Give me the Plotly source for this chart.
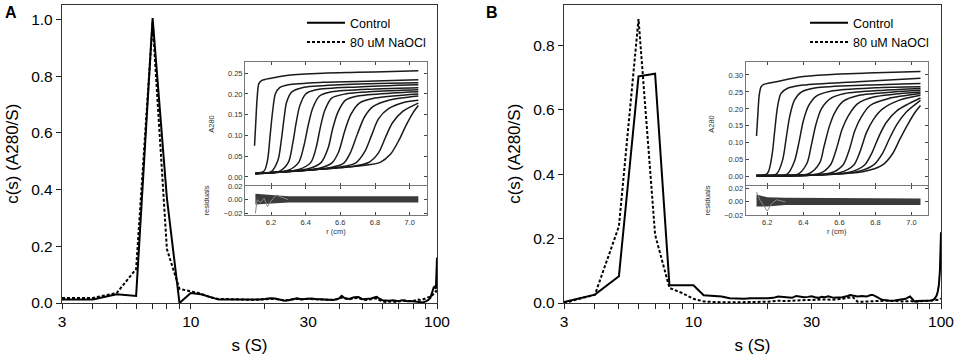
import plotly.graph_objects as go

# ---------------- main c(s) distributions ----------------
A_ctrl_s = [3,4,5,6,7,8,9,10,11,12,13,14,15,16,17,18,19,20,21,22,23,24,25,26,27,28,29,30,31,32,34,36,38,40,41,42,44,46,48,50,52,54,56,57,58,60,62,64,66,68,70,72,74,76,78,80,82,84,86,88,90,92,94,95,96,97,98,99,100]
A_ctrl_c = [0.012,0.012,0.031,0.025,1.005,0.37,0.0,0.035,0.031,0.02,0.012,0.012,0.012,0.011,0.011,0.011,0.012,0.014,0.017,0.016,0.012,0.008,0.01,0.014,0.017,0.013,0.014,0.017,0.016,0.014,0.013,0.012,0.011,0.016,0.025,0.018,0.014,0.02,0.021,0.013,0.014,0.016,0.02,0.022,0.016,0.01,0.009,0.008,0.01,0.008,0.006,0.01,0.008,0.006,0.007,0.006,0.004,0.002,0.001,0.002,0.006,0.01,0.018,0.03,0.045,0.055,0.058,0.05,0.16]

A_ocl_s = [3,4,5,6,7,8,9,10,11,12,13,14,15,16,18,20,21,22,24,26,27,28,30,32,34,36,38,40,41,42,44,46,48,50,52,54,56,58,60,62,64,66,68,70,72,74,76,78,80,82,84,86,88,90,92,94,96,97,98,99,100]
A_ocl_c = [0.018,0.018,0.035,0.12,0.99,0.19,0.05,0.04,0.033,0.02,0.014,0.014,0.013,0.012,0.011,0.013,0.015,0.015,0.009,0.013,0.015,0.012,0.015,0.013,0.012,0.012,0.011,0.014,0.02,0.016,0.013,0.017,0.018,0.012,0.011,0.013,0.017,0.011,0.006,0.004,0.005,0.006,0.004,0.005,0.008,0.009,0.007,0.006,0.007,0.01,0.012,0.01,0.012,0.016,0.02,0.022,0.028,0.033,0.04,0.042,0.035]

B_ctrl_s = [3,4,5,6,7,8,9,10,11,12,13,14,15,16,17,18,19,20,21,22,23,24,25,26,27,28,29,30,31,32,33,34,35,36,37,38,40,42,43,44,46,48,50,52,53,55,57,59,62,65,68,70,72,74,75,77,78,80,84,88,92,94,96,97,98,99,100]
B_ctrl_c = [0.003,0.026,0.083,0.704,0.712,0.055,0.055,0.055,0.024,0.022,0.02,0.015,0.013,0.013,0.015,0.016,0.015,0.015,0.016,0.02,0.018,0.016,0.016,0.022,0.02,0.018,0.019,0.021,0.018,0.016,0.019,0.018,0.021,0.019,0.016,0.017,0.018,0.022,0.025,0.023,0.02,0.022,0.02,0.025,0.025,0.019,0.012,0.009,0.007,0.008,0.01,0.012,0.013,0.018,0.02,0.01,0.005,0.006,0.006,0.007,0.008,0.012,0.023,0.035,0.055,0.1,0.22]

B_ocl_s = [3,4,5,6,7,8,9,10,11,12,14,16,18,20,22,24,26,28,30,32,34,36,38,40,42,44,45,46,48,50,55,60,65,70,75,80,85,90,95,98,100]
B_ocl_c = [0.0,0.026,0.238,0.882,0.212,0.047,0.031,0.013,0.005,0.003,0.002,0.002,0.003,0.004,0.007,0.006,0.008,0.009,0.01,0.01,0.011,0.01,0.011,0.013,0.016,0.018,0.012,0.004,0.004,0.005,0.006,0.007,0.005,0.005,0.006,0.004,0.006,0.008,0.009,0.01,0.014]

x_tickvals = [3, 10, 30, 100]
x_ticktext = ["3", "10", "30", "100"]
x_minor = [4, 5, 6, 7, 8, 9, 20, 40, 50, 60, 70, 80, 90]

# ---------------- inset: absorbance scans (r in cm, A280) ----------------
A_scan_r = [
    [6.105,6.112,6.12,6.13,6.145,6.2,6.3,6.5,6.7,6.9,7.05],
    [6.11,6.16,6.18,6.195,6.21,6.225,6.25,6.3,6.5,6.8,7.05],
    [6.11,6.2,6.24,6.26,6.275,6.29,6.32,6.38,6.6,7.05],
    [6.11,6.25,6.3,6.325,6.345,6.365,6.4,6.46,6.7,7.05],
    [6.11,6.3,6.36,6.39,6.415,6.44,6.48,6.55,6.8,7.05],
    [6.11,6.36,6.43,6.46,6.485,6.51,6.55,6.63,6.85,7.05],
    [6.11,6.42,6.49,6.53,6.555,6.585,6.63,6.7,6.9,7.05],
    [6.11,6.48,6.55,6.59,6.625,6.66,6.71,6.8,7.05],
    [6.11,6.54,6.62,6.66,6.70,6.74,6.79,6.88,7.05],
    [6.11,6.6,6.69,6.74,6.78,6.82,6.88,6.97,7.05],
    [6.11,6.66,6.76,6.82,6.86,6.9,6.96,7.05],
    [6.11,6.72,6.83,6.89,6.94,6.98,7.02,7.05],
]
A_scan_a = [
    [0.075,0.13,0.19,0.225,0.232,0.238,0.245,0.25,0.252,0.254,0.256],
    [0.008,0.014,0.04,0.10,0.16,0.2,0.215,0.222,0.228,0.231,0.234],
    [0.008,0.012,0.04,0.09,0.14,0.18,0.205,0.215,0.222,0.227],
    [0.008,0.014,0.035,0.08,0.13,0.17,0.2,0.21,0.217,0.222],
    [0.008,0.016,0.035,0.075,0.125,0.165,0.195,0.205,0.212,0.215],
    [0.008,0.018,0.035,0.07,0.12,0.16,0.19,0.2,0.207,0.21],
    [0.008,0.02,0.035,0.07,0.115,0.155,0.185,0.195,0.202,0.205],
    [0.008,0.021,0.033,0.06,0.11,0.15,0.178,0.19,0.2],
    [0.008,0.022,0.033,0.06,0.105,0.145,0.17,0.185,0.195],
    [0.008,0.024,0.034,0.06,0.1,0.14,0.165,0.18,0.185],
    [0.008,0.025,0.034,0.058,0.095,0.13,0.158,0.178],
    [0.008,0.027,0.035,0.055,0.09,0.125,0.155,0.172],
]
B_scan_r = [
    [6.14,6.147,6.155,6.165,6.18,6.25,6.4,6.6,6.8,7.05],
    [6.14,6.2,6.225,6.24,6.255,6.275,6.31,6.4,6.7,7.05],
    [6.14,6.25,6.285,6.305,6.325,6.35,6.39,6.47,6.75,7.05],
    [6.14,6.31,6.35,6.375,6.40,6.43,6.47,6.55,6.8,7.05],
    [6.14,6.37,6.42,6.445,6.47,6.50,6.55,6.63,6.85,7.05],
    [6.14,6.43,6.49,6.515,6.545,6.575,6.62,6.71,6.9,7.05],
    [6.14,6.49,6.55,6.585,6.615,6.65,6.70,6.79,7.05],
    [6.14,6.55,6.62,6.655,6.685,6.72,6.77,6.87,7.05],
    [6.14,6.60,6.68,6.715,6.75,6.79,6.84,6.93,7.05],
    [6.14,6.65,6.74,6.78,6.82,6.86,6.92,7.05],
    [6.14,6.69,6.79,6.84,6.88,6.92,6.97,7.05],
    [6.14,6.73,6.84,6.895,6.935,6.975,7.02,7.05],
]
B_scan_a = [
    [0.12,0.18,0.24,0.265,0.272,0.28,0.295,0.303,0.306,0.31],
    [0.003,0.01,0.06,0.13,0.2,0.245,0.26,0.27,0.28,0.29],
    [0.003,0.008,0.05,0.115,0.18,0.225,0.25,0.262,0.27,0.275],
    [0.003,0.008,0.045,0.1,0.165,0.21,0.237,0.252,0.262,0.265],
    [0.004,0.008,0.04,0.095,0.155,0.2,0.23,0.245,0.255,0.26],
    [0.004,0.009,0.04,0.09,0.15,0.19,0.222,0.24,0.25,0.255],
    [0.004,0.01,0.035,0.085,0.14,0.18,0.215,0.235,0.25],
    [0.004,0.011,0.035,0.08,0.135,0.175,0.21,0.23,0.245],
    [0.004,0.012,0.035,0.075,0.13,0.17,0.2,0.225,0.24],
    [0.004,0.013,0.035,0.07,0.12,0.16,0.195,0.232],
    [0.004,0.014,0.035,0.07,0.115,0.155,0.19,0.225],
    [0.004,0.015,0.035,0.068,0.11,0.15,0.19,0.21],
]

# residual envelopes and a stray residual trace
A_res_r = [6.11, 6.2, 6.3, 6.5, 6.7, 6.9, 7.05]
A_res_hi = [0.009, 0.007, 0.005, 0.005, 0.005, 0.005, 0.005]
A_res_lo = [-0.007, -0.006, -0.004, -0.004, -0.004, -0.004, -0.004]
A_res2_r = [6.11, 6.115, 6.12, 6.14, 6.16, 6.18, 6.2, 6.23, 6.26, 6.3]
A_res2_v = [-0.02, -0.006, 0.0, -0.004, 0.002, -0.01, -0.002, 0.007, 0.004, 0.0]
B_res_r = [6.14, 6.2, 6.3, 6.5, 6.7, 6.9, 7.05]
B_res_hi = [0.011, 0.007, 0.006, 0.006, 0.006, 0.005, 0.005]
B_res_lo = [-0.007, -0.007, -0.005, -0.005, -0.005, -0.005, -0.005]
B_res2_r = [6.14, 6.16, 6.18, 6.2, 6.22, 6.25, 6.3]
B_res2_v = [0.015, 0.002, -0.006, -0.014, -0.004, 0.003, 0.0]

FONT = "Arial, Liberation Sans, sans-serif"
W, H = 957, 358

def px(x):
    return x / W

def py(y):
    return (H - y) / H

fig = go.Figure()

# main traces
for s, c, name, dash, xa, ya, lg in [
    (A_ctrl_s, A_ctrl_c, "Control", "solid", "x", "y", "legend"),
    (A_ocl_s, A_ocl_c, "80 uM NaOCl", "3px,2px", "x", "y", "legend"),
    (B_ctrl_s, B_ctrl_c, "Control", "solid", "x2", "y2", "legend2"),
    (B_ocl_s, B_ocl_c, "80 uM NaOCl", "3px,2px", "x2", "y2", "legend2"),
]:
    fig.add_trace(go.Scatter(x=s, y=c, mode="lines", name=name, xaxis=xa, yaxis=ya,
                             legend=lg, showlegend=True,
                             line=dict(color="black", width=2, dash=dash)))

# inset scans
for rs, As, xa, ya in [(A_scan_r, A_scan_a, "x3", "y3"), (B_scan_r, B_scan_a, "x5", "y5")]:
    for r, a in zip(rs, As):
        fig.add_trace(go.Scatter(x=r, y=a, mode="lines", xaxis=xa, yaxis=ya, showlegend=False,
                                 line=dict(color="#1a1a1a", width=1.5, shape="spline", smoothing=0.8)))

# residuals
for rr, hi, lo, r2, v2, xa, ya in [
    (A_res_r, A_res_hi, A_res_lo, A_res2_r, A_res2_v, "x4", "y4"),
    (B_res_r, B_res_hi, B_res_lo, B_res2_r, B_res2_v, "x6", "y6"),
]:
    fig.add_trace(go.Scatter(x=rr, y=lo, mode="lines", xaxis=xa, yaxis=ya, showlegend=False,
                             line=dict(width=0, color="#222")))
    fig.add_trace(go.Scatter(x=rr, y=hi, mode="lines", xaxis=xa, yaxis=ya, showlegend=False,
                             fill="tonexty", fillcolor="rgba(25,25,25,0.85)",
                             line=dict(width=0, color="#222")))
    fig.add_trace(go.Scatter(x=r2, y=v2, mode="lines", xaxis=xa, yaxis=ya, showlegend=False,
                             line=dict(width=1, color="#888")))

tickfont = dict(family=FONT, size=15.5, color="black")
titlefont = dict(family=FONT, size=17, color="black")

def main_x(domain, anchor):
    return dict(domain=domain, anchor=anchor, type="log", range=[0.47712, 2.0], tickvals=x_tickvals, ticktext=x_ticktext,
                ticks="outside", ticklen=5, tickwidth=1.2, tickcolor="#222", ticklabelstandoff=-1,
                minor=dict(tickvals=x_minor, ticks="outside", ticklen=5, tickwidth=1.2, tickcolor="#222"),
                showline=True, linecolor="#333", linewidth=1.3, mirror=True, showgrid=False, zeroline=False,
                tickfont=tickfont, title=dict(text="s (S)", font=titlefont, standoff=10), automargin=False)

def main_y(domain, rng, tv, anchor):
    return dict(domain=domain, range=rng, tickvals=tv, tickformat=".1f", anchor=anchor,
                ticks="outside", ticklen=5, tickwidth=1.2, tickcolor="#222",
                showline=True, linecolor="#333", linewidth=1.3, mirror=True, showgrid=False, zeroline=False,
                tickfont=tickfont, title=dict(text="c(s) (A280/S)", font=titlefont, standoff=8), automargin=False)

ifont = dict(family=FONT, size=7.5, color="#333")

def inset_x(domain, rng, anchor, labels, title):
    d = dict(domain=domain, range=rng, anchor=anchor, tickvals=[6.2, 6.4, 6.6, 6.8, 7.0], tickformat=".1f",
             ticks="inside", ticklen=3, tickcolor="#444", showline=True, linecolor="#777", linewidth=1,
             mirror="ticks", showgrid=False, zeroline=False, showticklabels=labels, tickfont=ifont,
             automargin=False)
    if title:
        d["title"] = dict(text="r (cm)", font=ifont, standoff=0)
    return d

def inset_y(domain, rng, tv, anchor, title):
    return dict(domain=domain, range=rng, anchor=anchor, tickvals=tv, tickformat=".2f",
                ticks="inside", ticklen=3, tickcolor="#444", showline=True, linecolor="#777", linewidth=1,
                mirror="ticks", showgrid=False, zeroline=False, tickfont=ifont, automargin=False,
                title=dict(text=title, font=ifont, standoff=12))

ydom = [py(303), py(4.5)]
ins_main = [py(186), py(62)]
ins_res = [py(215), py(186)]
insA = [px(245), px(427)]
insB = [px(745.7), px(927.7)]

legfont = dict(family=FONT, size=12.5, color="black")

fig.update_layout(
    width=W, height=H, margin=dict(l=0, r=0, t=0, b=0),
    paper_bgcolor="white", plot_bgcolor="white",
    font=dict(family=FONT, color="black"),
    xaxis=main_x([px(62), px(437)], "y"),
    yaxis=main_y(ydom, [0, 1.053], [0, 0.2, 0.4, 0.6, 0.8, 1.0], "x"),
    xaxis2=main_x([px(564), px(941)], "y2"),
    yaxis2=main_y(ydom, [0, 0.927], [0, 0.2, 0.4, 0.6, 0.8], "x2"),
    xaxis3=inset_x(insA, [6.05, 7.10], "y3", False, False),
    yaxis3=inset_y(ins_main, [-0.022, 0.277], [0, 0.05, 0.1, 0.15, 0.2, 0.25], "x3", "A280"),
    xaxis4=inset_x(insA, [6.05, 7.10], "y4", True, True),
    yaxis4=inset_y(ins_res, [-0.0225, 0.0203], [-0.02, 0, 0.02], "x4", "residuals"),
    xaxis5=inset_x(insB, [6.08, 7.09], "y5", False, False),
    yaxis5=inset_y(ins_main, [-0.027, 0.338], [0, 0.05, 0.1, 0.15, 0.2, 0.25, 0.3], "x5", "A280"),
    xaxis6=inset_x(insB, [6.08, 7.09], "y6", True, True),
    yaxis6=inset_y(ins_res, [-0.02, 0.024], [-0.02, 0, 0.02], "x6", "residuals"),
    legend=dict(x=px(302), y=py(8), xanchor="left", yanchor="top", bgcolor="rgba(0,0,0,0)",
                font=legfont, itemwidth=38, tracegroupgap=0, traceorder="normal"),
    legend2=dict(x=px(805), y=py(8), xanchor="left", yanchor="top", bgcolor="rgba(0,0,0,0)",
                 font=legfont, itemwidth=38, tracegroupgap=0, traceorder="normal"),
    annotations=[
        dict(text="<b>A</b>", x=px(3), y=py(13), xref="paper", yref="paper", xanchor="left", yanchor="middle",
             showarrow=False, font=dict(family=FONT, size=16, color="black")),
        dict(text="<b>B</b>", x=px(484), y=py(13), xref="paper", yref="paper", xanchor="left", yanchor="middle",
             showarrow=False, font=dict(family=FONT, size=16, color="black")),
    ],
)

fig.write_html("out.html", config={"displayModeBar": False},
               post_script="document.body.style.margin='0px';document.body.style.overflow='hidden';")
